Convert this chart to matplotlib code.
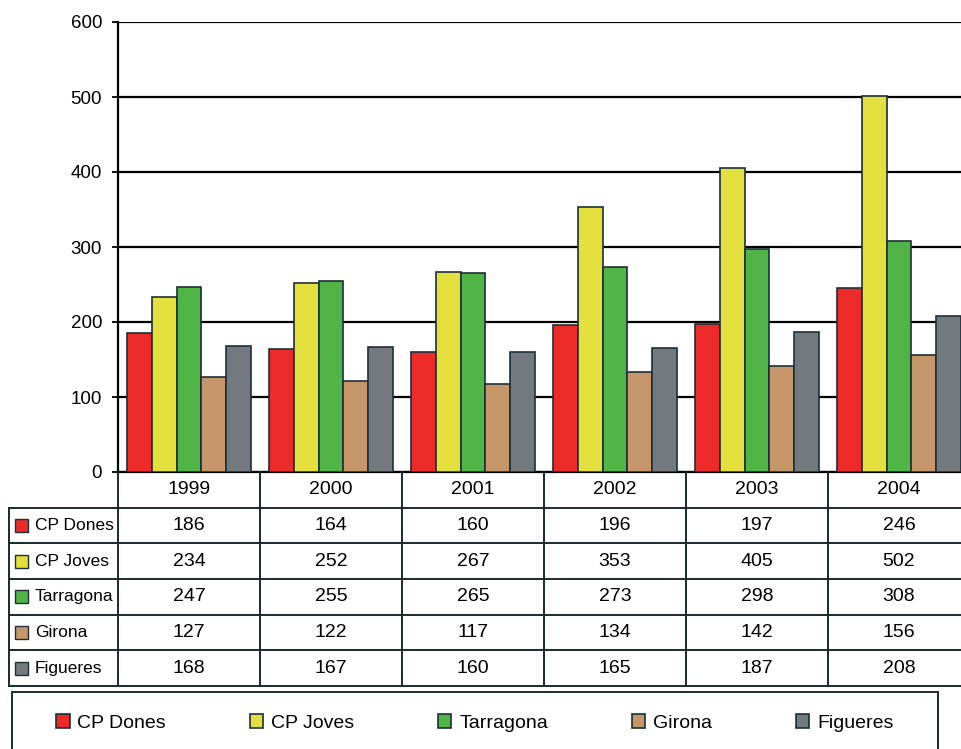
import matplotlib.pyplot as plt
import numpy as np
from matplotlib.patches import Rectangle

# data
years = ["1999", "2000", "2001", "2002", "2003", "2004"]
series_names = ["CP Dones", "CP Joves", "Tarragona", "Girona", "Figueres"]
cp_dones = [186, 164, 160, 196, 197, 246]
cp_joves = [234, 252, 267, 353, 405, 502]
tarragona = [247, 255, 265, 273, 298, 308]
girona = [127, 122, 117, 134, 142, 156]
figueres = [168, 167, 160, 165, 187, 208]
y_ticks = [0, 100, 200, 300, 400, 500, 600]

series = [cp_dones, cp_joves, tarragona, girona, figueres]
colors = ["#EC2A2A", "#E3DF3C", "#50B446", "#C4966A", "#737A7F"]
edge = "#1C3036"

plt.rcParams["font.family"] = ["Liberation Sans", "DejaVu Sans"]

W, H = 962, 749
fig = plt.figure(figsize=(W / 100, H / 100), dpi=100)

# pixel geometry of the original
ax_left, ax_right = 118, 970
ax_top, ax_bottom = 22, 472
tbl_left, tbl_bottom = 9, 686
cat_px = (ax_right - ax_left) / len(years)

ax = fig.add_axes([ax_left / W, 1 - ax_bottom / H,
                   (ax_right - ax_left) / W, (ax_bottom - ax_top) / H])
x = np.arange(len(years))
bw = 0.176
for i, (name, vals, c) in enumerate(zip(series_names, series, colors)):
    ax.bar(x + (i - 2) * bw, vals, bw, color=c, edgecolor=edge,
           linewidth=1.2, label=name, zorder=3)

ax.set_xlim(-0.5, len(years) - 0.5)
ax.set_ylim(0, 600)
ax.set_yticks(y_ticks)
ax.set_xticks([])
ax.grid(axis="y", color="black", linewidth=1.6, zorder=1)
ax.tick_params(axis="y", direction="out", length=4.5, width=1.3,
               labelsize=13.5, pad=7, color="black")
for s in ["top", "right"]:
    ax.spines[s].set_visible(False)
ax.spines["left"].set_linewidth(1.6)
ax.spines["bottom"].set_linewidth(1.6)

# data table under the plot
lab_w = (ax_left - tbl_left) / cat_px
tax = fig.add_axes([tbl_left / W, 1 - tbl_bottom / H,
                    (ax_right - tbl_left) / W, (tbl_bottom - ax_bottom) / H])
n_rows = len(series) + 1
tax.set_xlim(-0.5 - lab_w, len(years) - 0.5)
tax.set_ylim(n_rows, 0)
tax.axis("off")

lc = "#1A2A2E"
for r in range(1, n_rows + 1):
    tax.plot([-0.5 - lab_w, len(years) - 0.5], [r, r], color=lc, lw=1.4,
             clip_on=False)
for k in range(len(years) + 1):
    tax.plot([k - 0.5, k - 0.5], [0, n_rows], color=lc, lw=1.4, clip_on=False)
tax.plot([-0.5 - lab_w, -0.5 - lab_w], [1, n_rows], color=lc, lw=1.4,
         clip_on=False)

for j, yr in enumerate(years):
    tax.text(j, 0.5, yr, ha="center", va="center", fontsize=14)
for i, (name, vals, c) in enumerate(zip(series_names, series, colors)):
    r = i + 1.5
    sq = 13 / cat_px
    tax.add_patch(Rectangle((-0.5 - lab_w + 6 / cat_px, r - 0.18), sq, 0.36,
                            facecolor=c, edgecolor=edge, lw=1.0,
                            clip_on=False))
    tax.text(-0.5 - lab_w + 26 / cat_px, r, name, ha="left", va="center",
             fontsize=12.5)
    for j, v in enumerate(vals):
        tax.text(j, r, str(v), ha="center", va="center", fontsize=14)

# legend box at the bottom
fig.patches.append(Rectangle((12 / W, -0.05), (938 - 12) / W,
                             (H - 692) / H + 0.05, transform=fig.transFigure,
                             facecolor="none", edgecolor=lc, lw=1.4))
handles, labels = ax.get_legend_handles_labels()
fig.legend(handles, labels, ncol=5, loc="center left",
           bbox_to_anchor=(56 / W, 1 - 723 / H), frameon=False,
           prop={"size": 14}, handlelength=0.7, handleheight=0.7,
           handletextpad=0.4, columnspacing=4.3, borderpad=0,
           borderaxespad=0)

fig.savefig("out.png", dpi=100)
